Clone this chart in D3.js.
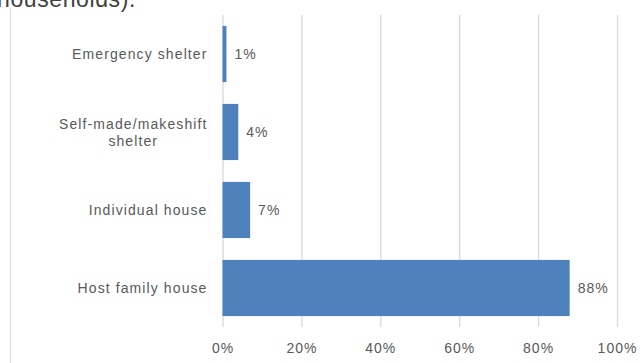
<!DOCTYPE html>
<html>
<head>
<meta charset="utf-8">
<script src="https://cdn.jsdelivr.net/npm/d3@7"></script>
<style>
  html, body { margin: 0; padding: 0; background: #fff; }
  svg { display: block; }
  text { font-family: "Liberation Sans", Arial, sans-serif; }
</style>
</head>
<body>
<svg id="chart" width="643" height="363"></svg>
<script>
// Shelter type of displaced households (share of households)
const categories = [
  ["Emergency shelter"],
  ["Self-made/makeshift", "shelter"],
  ["Individual house"],
  ["Host family house"]
];
const values = [0.01, 0.04, 0.07, 0.88];
const tickValues = [0, 0.2, 0.4, 0.6, 0.8, 1.0];
const tickLabels = ["0%", "20%", "40%", "60%", "80%", "100%"];
const valueLabels = ["1%", "4%", "7%", "88%"];

const svg = d3.select("#chart");
const W = 643, H = 363;
const margin = { top: 15, right: 26, bottom: 36, left: 222.5 };
const textColor = "#595959";

// Heading line running above the chart area
svg.append("text")
  .attr("x", -3).attr("y", 7)
  .attr("font-size", 23)
  .attr("letter-spacing", 0.6)
  .attr("fill", "#404040")
  .text("households).");

// Chart area border on the left
svg.append("line")
  .attr("x1", 10.5).attr("x2", 10.5)
  .attr("y1", 8).attr("y2", H)
  .attr("stroke", "#d9d9d9").attr("stroke-width", 1);

const x = d3.scaleLinear()
  .domain([0, 1])
  .range([margin.left, W - margin.right]);

const keys = categories.map(c => c.join(" "));
const y = d3.scaleBand()
  .domain(keys)
  .range([margin.top, H - margin.bottom])
  .paddingInner(0.28)
  .paddingOuter(0.14);

// Vertical gridlines
const xAxis = d3.axisBottom(x)
  .tickValues(tickValues)
  .tickSize(-(H - margin.bottom - margin.top))
  .tickFormat((d, i) => tickLabels[i]);

const gx = svg.append("g")
  .attr("transform", `translate(0,${H - margin.bottom})`)
  .call(xAxis);
gx.select(".domain").remove();
gx.selectAll(".tick line")
  .attr("stroke", "#d9d9d9")
  .attr("stroke-width", 1.3);
gx.selectAll(".tick text")
  .attr("y", 0)
  .attr("dy", 26)
  .attr("font-size", 14)
  .attr("letter-spacing", 1)
  .attr("fill", textColor);

// Bars
svg.append("g")
  .selectAll("rect")
  .data(values)
  .join("rect")
  .attr("x", x(0))
  .attr("y", (d, i) => y(keys[i]))
  .attr("width", d => x(d) - x(0))
  .attr("height", y.bandwidth())
  .attr("fill", "#4f81bd");

// Value labels
svg.append("g")
  .selectAll("text")
  .data(values)
  .join("text")
  .attr("x", d => x(d) + 8)
  .attr("y", (d, i) => y(keys[i]) + y.bandwidth() / 2)
  .attr("dy", "0.36em")
  .attr("font-size", 14)
  .attr("letter-spacing", 1)
  .attr("fill", textColor)
  .text((d, i) => valueLabels[i]);

// Category labels (multi-line labels are centred on their widest line)
const labelRight = margin.left - 15;
const lineH = 17;
categories.forEach((lines, i) => {
  const cy = y(keys[i]) + y.bandwidth() / 2;
  const t = svg.append("text")
    .attr("font-size", 14)
    .attr("letter-spacing", 1.1)
    .attr("fill", textColor);
  lines.forEach((ln, j) => {
    t.append("tspan")
      .attr("y", cy + (j - (lines.length - 1) / 2) * lineH)
      .attr("dy", "0.36em")
      .text(ln);
  });
  // measure and align
  const spans = t.selectAll("tspan").nodes();
  const widths = spans.map(s => s.getComputedTextLength());
  const maxW = d3.max(widths);
  const centre = labelRight - maxW / 2;
  spans.forEach((s, j) => {
    d3.select(s).attr("x", centre).attr("text-anchor", "middle");
  });
});
</script>
</body>
</html>
